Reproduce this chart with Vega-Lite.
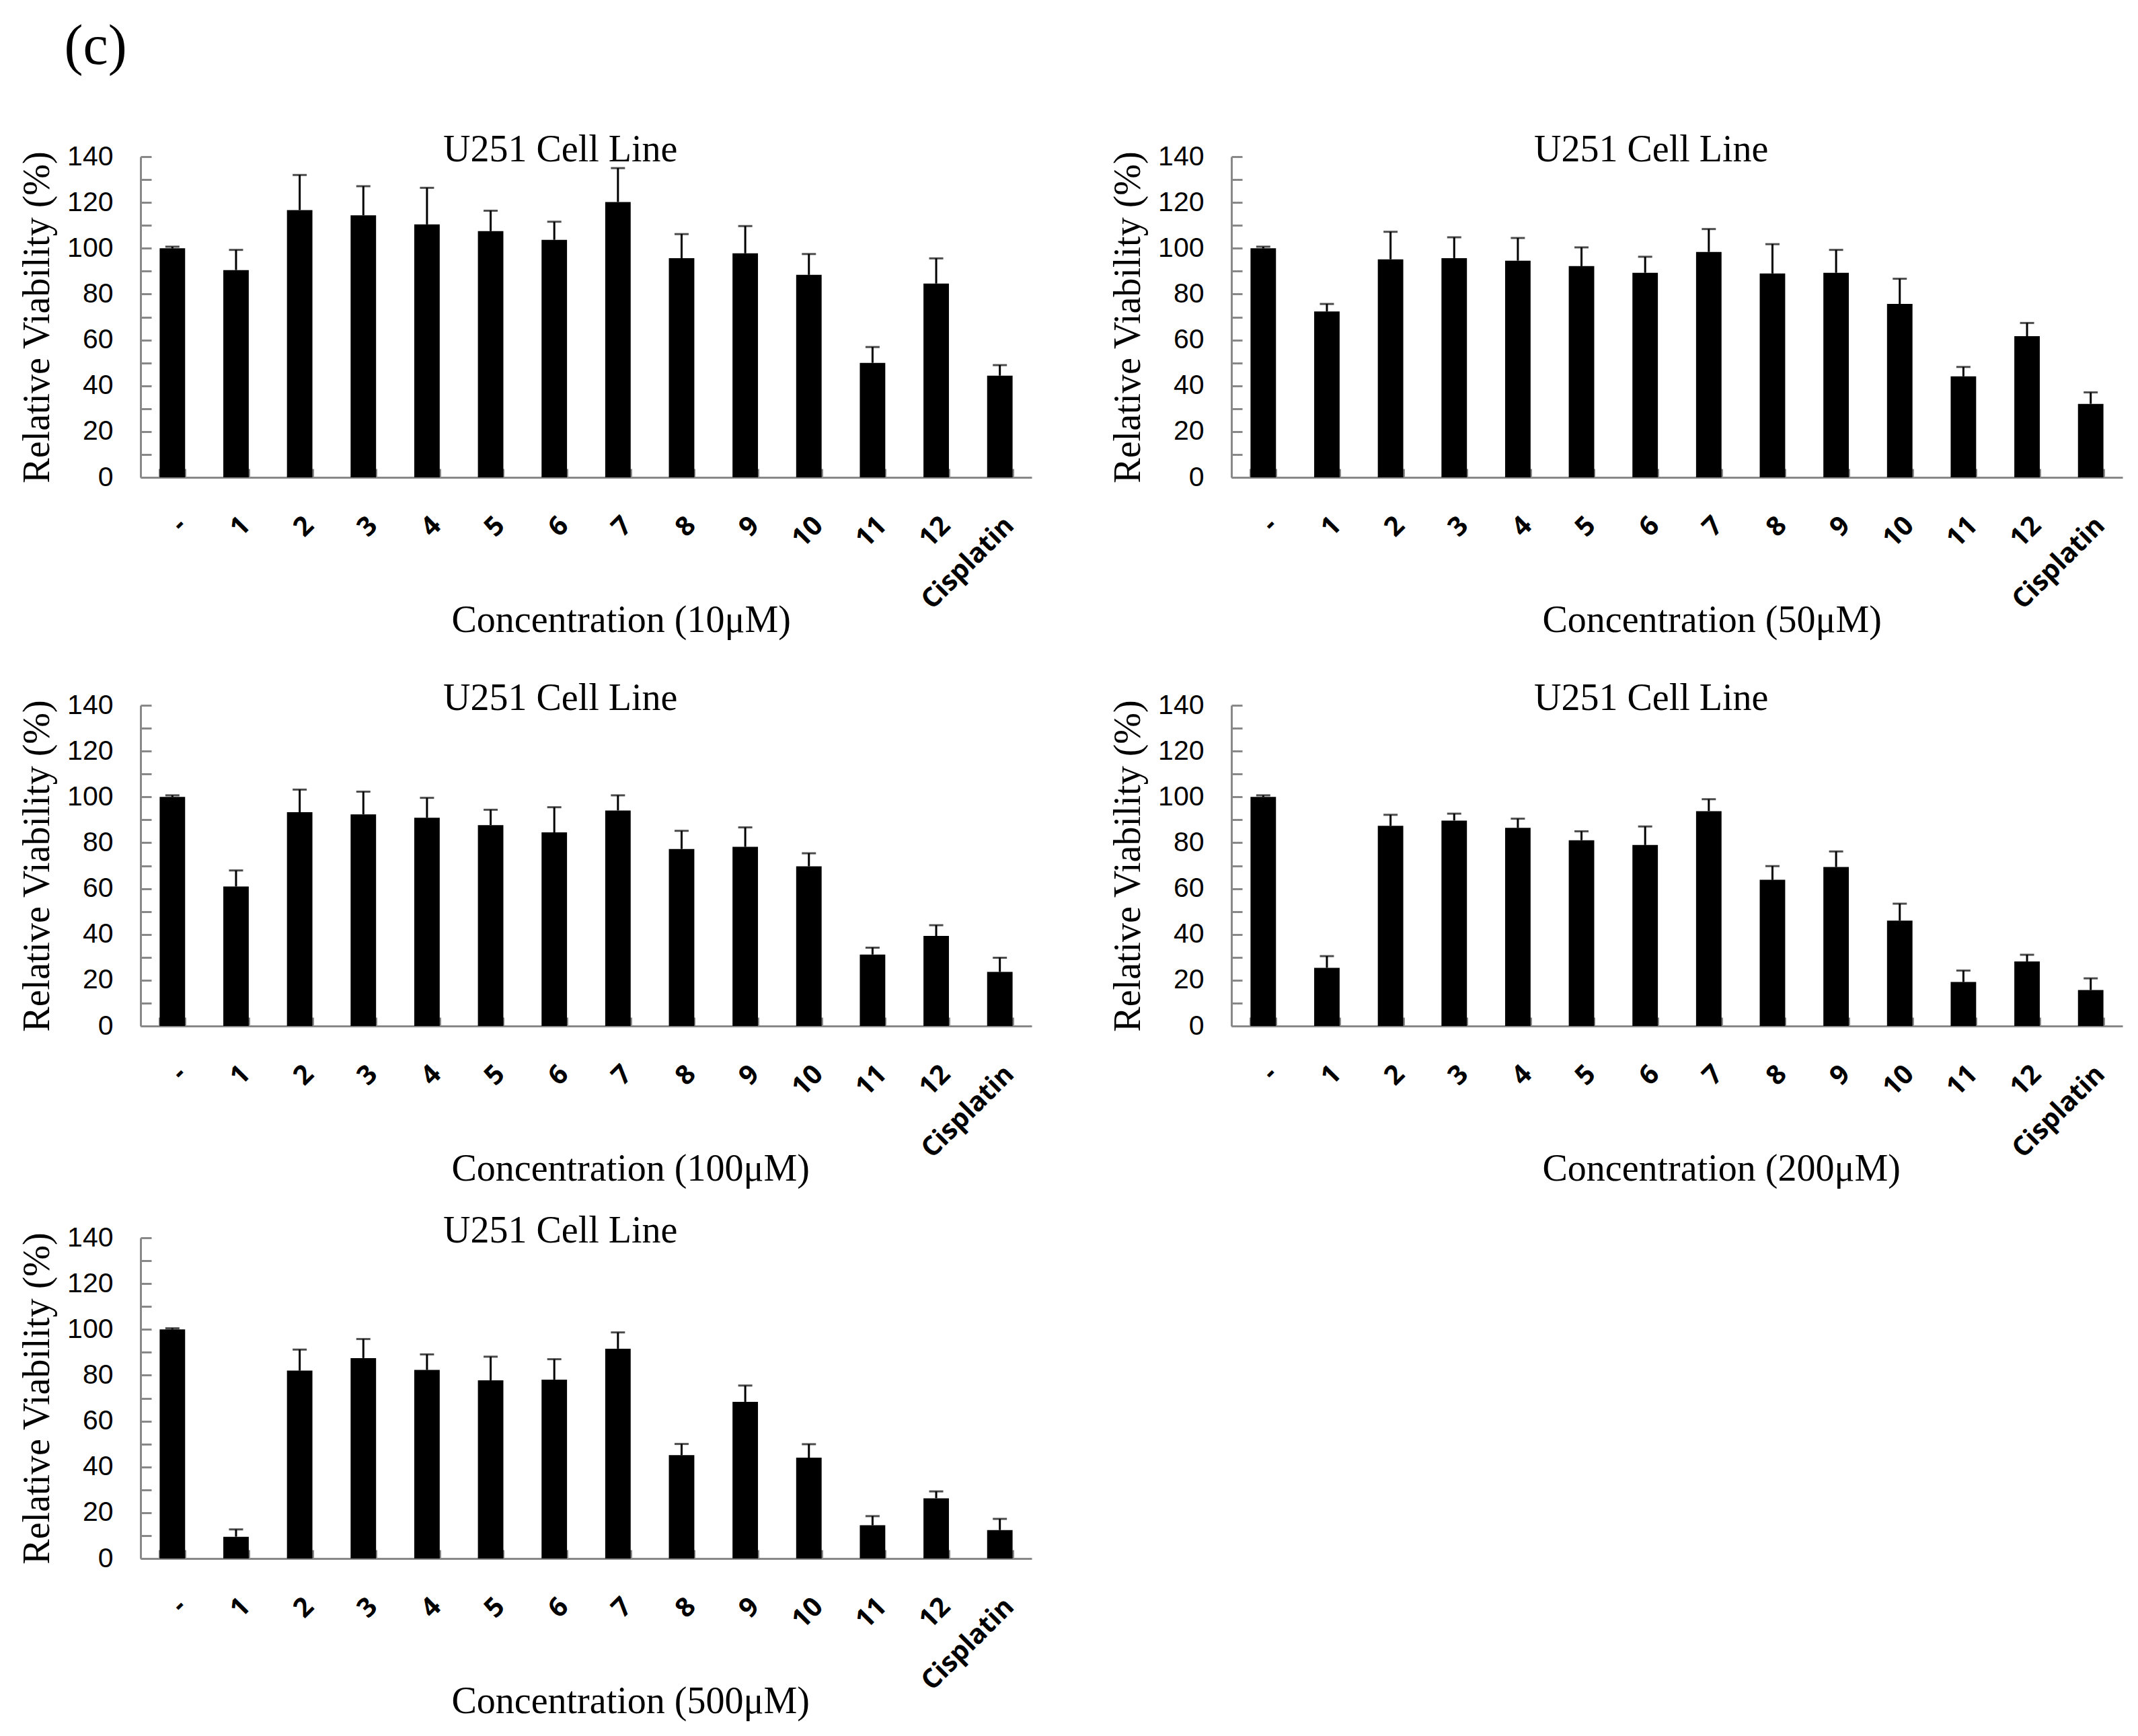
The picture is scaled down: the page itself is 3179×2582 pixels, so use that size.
{
  "$schema": "https://vega.github.io/schema/vega-lite/v6.json",
  "background": "white",
  "padding": {"left": 27, "top": 28, "right": 10, "bottom": 10},
  "title": {"text": "(c)", "fontSize": 84, "anchor": "start", "dx": 68, "offset": 82},
  "datasets": {
    "viability": [
      {"panel": "10", "compound": "-", "value": 100, "upper": 100.7},
      {"panel": "10", "compound": "1", "value": 90.5, "upper": 99.3},
      {"panel": "10", "compound": "2", "value": 116.7, "upper": 132},
      {"panel": "10", "compound": "3", "value": 114.4, "upper": 127.1},
      {"panel": "10", "compound": "4", "value": 110.4, "upper": 126.4},
      {"panel": "10", "compound": "5", "value": 107.5, "upper": 116.4},
      {"panel": "10", "compound": "6", "value": 103.7, "upper": 111.6},
      {"panel": "10", "compound": "7", "value": 120.2, "upper": 135},
      {"panel": "10", "compound": "8", "value": 95.7, "upper": 106.2},
      {"panel": "10", "compound": "9", "value": 97.8, "upper": 109.7},
      {"panel": "10", "compound": "10", "value": 88.4, "upper": 97.5},
      {"panel": "10", "compound": "11", "value": 50, "upper": 56.9},
      {"panel": "10", "compound": "12", "value": 84.6, "upper": 95.6},
      {"panel": "10", "compound": "Cisplatin", "value": 44.4, "upper": 49},
      {"panel": "50", "compound": "-", "value": 100, "upper": 100.7},
      {"panel": "50", "compound": "1", "value": 72.4, "upper": 75.7},
      {"panel": "50", "compound": "2", "value": 95.2, "upper": 107.2},
      {"panel": "50", "compound": "3", "value": 95.7, "upper": 104.8},
      {"panel": "50", "compound": "4", "value": 94.6, "upper": 104.5},
      {"panel": "50", "compound": "5", "value": 92.2, "upper": 100.4},
      {"panel": "50", "compound": "6", "value": 89.3, "upper": 96.3},
      {"panel": "50", "compound": "7", "value": 98.4, "upper": 108.4},
      {"panel": "50", "compound": "8", "value": 89, "upper": 101.8},
      {"panel": "50", "compound": "9", "value": 89.3, "upper": 99.3},
      {"panel": "50", "compound": "10", "value": 75.7, "upper": 86.7},
      {"panel": "50", "compound": "11", "value": 44.1, "upper": 48.2},
      {"panel": "50", "compound": "12", "value": 61.6, "upper": 67.4},
      {"panel": "50", "compound": "Cisplatin", "value": 32.1, "upper": 37.1},
      {"panel": "100", "compound": "-", "value": 100, "upper": 100.7},
      {"panel": "100", "compound": "1", "value": 60.9, "upper": 67.9},
      {"panel": "100", "compound": "2", "value": 93.3, "upper": 103.2},
      {"panel": "100", "compound": "3", "value": 92.4, "upper": 102.3},
      {"panel": "100", "compound": "4", "value": 90.9, "upper": 99.6},
      {"panel": "100", "compound": "5", "value": 87.7, "upper": 94.4},
      {"panel": "100", "compound": "6", "value": 84.5, "upper": 95.5},
      {"panel": "100", "compound": "7", "value": 94.1, "upper": 100.7},
      {"panel": "100", "compound": "8", "value": 77.3, "upper": 85.2},
      {"panel": "100", "compound": "9", "value": 78.2, "upper": 86.7},
      {"panel": "100", "compound": "10", "value": 69.7, "upper": 75.4},
      {"panel": "100", "compound": "11", "value": 31.2, "upper": 34.2},
      {"panel": "100", "compound": "12", "value": 39.3, "upper": 44},
      {"panel": "100", "compound": "Cisplatin", "value": 23.6, "upper": 29.8},
      {"panel": "200", "compound": "-", "value": 100, "upper": 100.7},
      {"panel": "200", "compound": "1", "value": 25.4, "upper": 30.5},
      {"panel": "200", "compound": "2", "value": 87.4, "upper": 92.2},
      {"panel": "200", "compound": "3", "value": 89.7, "upper": 92.7},
      {"panel": "200", "compound": "4", "value": 86.5, "upper": 90.5},
      {"panel": "200", "compound": "5", "value": 81.1, "upper": 85},
      {"panel": "200", "compound": "6", "value": 79, "upper": 87.1},
      {"panel": "200", "compound": "7", "value": 93.8, "upper": 99},
      {"panel": "200", "compound": "8", "value": 63.8, "upper": 69.8},
      {"panel": "200", "compound": "9", "value": 69.4, "upper": 76.2},
      {"panel": "200", "compound": "10", "value": 46, "upper": 53.4},
      {"panel": "200", "compound": "11", "value": 19.2, "upper": 24.2},
      {"panel": "200", "compound": "12", "value": 28.2, "upper": 31.1},
      {"panel": "200", "compound": "Cisplatin", "value": 15.7, "upper": 20.8},
      {"panel": "500", "compound": "-", "value": 100, "upper": 100.5},
      {"panel": "500", "compound": "1", "value": 9.5, "upper": 12.7},
      {"panel": "500", "compound": "2", "value": 82, "upper": 91.2},
      {"panel": "500", "compound": "3", "value": 87.5, "upper": 95.8},
      {"panel": "500", "compound": "4", "value": 82.3, "upper": 89.1},
      {"panel": "500", "compound": "5", "value": 77.8, "upper": 88.1},
      {"panel": "500", "compound": "6", "value": 78.1, "upper": 87},
      {"panel": "500", "compound": "7", "value": 91.6, "upper": 98.7},
      {"panel": "500", "compound": "8", "value": 45.1, "upper": 50},
      {"panel": "500", "compound": "9", "value": 68.4, "upper": 75.5},
      {"panel": "500", "compound": "10", "value": 44, "upper": 49.9},
      {"panel": "500", "compound": "11", "value": 14.5, "upper": 18.5},
      {"panel": "500", "compound": "12", "value": 26.3, "upper": 29.3},
      {"panel": "500", "compound": "Cisplatin", "value": 12.4, "upper": 17.3}
    ]
  },
  "spacing": 37,
  "vconcat": [
    {
      "columns": 2,
      "spacing": {"row": 61, "column": 115},
      "concat": [
        {
          "title": {"text": "U251 Cell Line", "anchor": "start", "frame": "group", "dx": 450, "offset": -40},
          "width": 1325,
          "height": 477,
          "data": {"name": "viability"},
          "transform": [{"filter": "datum.panel == '10'"}],
          "encoding": {
            "x": {"field": "compound", "type": "nominal", "sort": ["-", "1", "2", "3", "4", "5", "6", "7", "8", "9", "10", "11", "12", "Cisplatin"], "scale": {"paddingInner": 0.6, "paddingOuter": 0.3}, "title": "Concentration (10μM)"}
          },
          "layer": [
            {"mark": {"type": "bar", "color": "black"}, "encoding": {"y": {"field": "value", "type": "quantitative", "scale": {"domain": [0, 140], "nice": false}, "title": "Relative Viability (%)"}}},
            {"mark": {"type": "rule", "color": "black", "strokeWidth": 3}, "encoding": {"y": {"field": "value", "type": "quantitative", "title": "Relative Viability (%)"}, "y2": {"field": "upper"}}},
            {"mark": {"type": "tick", "color": "black", "thickness": 3, "size": 21, "orient": "horizontal"}, "encoding": {"y": {"field": "upper", "type": "quantitative", "title": "Relative Viability (%)"}}}
          ]
        },
        {
          "title": {"text": "U251 Cell Line", "anchor": "start", "frame": "group", "dx": 450, "offset": -40},
          "width": 1325,
          "height": 477,
          "data": {"name": "viability"},
          "transform": [{"filter": "datum.panel == '50'"}],
          "encoding": {
            "x": {"field": "compound", "type": "nominal", "sort": ["-", "1", "2", "3", "4", "5", "6", "7", "8", "9", "10", "11", "12", "Cisplatin"], "scale": {"paddingInner": 0.6, "paddingOuter": 0.3}, "title": "Concentration (50μM)"}
          },
          "layer": [
            {"mark": {"type": "bar", "color": "black"}, "encoding": {"y": {"field": "value", "type": "quantitative", "scale": {"domain": [0, 140], "nice": false}, "title": "Relative Viability (%)"}}},
            {"mark": {"type": "rule", "color": "black", "strokeWidth": 3}, "encoding": {"y": {"field": "value", "type": "quantitative", "title": "Relative Viability (%)"}, "y2": {"field": "upper"}}},
            {"mark": {"type": "tick", "color": "black", "thickness": 3, "size": 21, "orient": "horizontal"}, "encoding": {"y": {"field": "upper", "type": "quantitative", "title": "Relative Viability (%)"}}}
          ]
        },
        {
          "title": {"text": "U251 Cell Line", "anchor": "start", "frame": "group", "dx": 450, "offset": -40},
          "width": 1325,
          "height": 477,
          "data": {"name": "viability"},
          "transform": [{"filter": "datum.panel == '100'"}],
          "encoding": {
            "x": {"field": "compound", "type": "nominal", "sort": ["-", "1", "2", "3", "4", "5", "6", "7", "8", "9", "10", "11", "12", "Cisplatin"], "scale": {"paddingInner": 0.6, "paddingOuter": 0.3}, "title": "Concentration (100μM)"}
          },
          "layer": [
            {"mark": {"type": "bar", "color": "black"}, "encoding": {"y": {"field": "value", "type": "quantitative", "scale": {"domain": [0, 140], "nice": false}, "title": "Relative Viability (%)"}}},
            {"mark": {"type": "rule", "color": "black", "strokeWidth": 3}, "encoding": {"y": {"field": "value", "type": "quantitative", "title": "Relative Viability (%)"}, "y2": {"field": "upper"}}},
            {"mark": {"type": "tick", "color": "black", "thickness": 3, "size": 21, "orient": "horizontal"}, "encoding": {"y": {"field": "upper", "type": "quantitative", "title": "Relative Viability (%)"}}}
          ]
        },
        {
          "title": {"text": "U251 Cell Line", "anchor": "start", "frame": "group", "dx": 450, "offset": -40},
          "width": 1325,
          "height": 477,
          "data": {"name": "viability"},
          "transform": [{"filter": "datum.panel == '200'"}],
          "encoding": {
            "x": {"field": "compound", "type": "nominal", "sort": ["-", "1", "2", "3", "4", "5", "6", "7", "8", "9", "10", "11", "12", "Cisplatin"], "scale": {"paddingInner": 0.6, "paddingOuter": 0.3}, "title": "Concentration (200μM)"}
          },
          "layer": [
            {"mark": {"type": "bar", "color": "black"}, "encoding": {"y": {"field": "value", "type": "quantitative", "scale": {"domain": [0, 140], "nice": false}, "title": "Relative Viability (%)"}}},
            {"mark": {"type": "rule", "color": "black", "strokeWidth": 3}, "encoding": {"y": {"field": "value", "type": "quantitative", "title": "Relative Viability (%)"}, "y2": {"field": "upper"}}},
            {"mark": {"type": "tick", "color": "black", "thickness": 3, "size": 21, "orient": "horizontal"}, "encoding": {"y": {"field": "upper", "type": "quantitative", "title": "Relative Viability (%)"}}}
          ]
        }
      ]
    },
    {
      "title": {"text": "U251 Cell Line", "anchor": "start", "frame": "group", "dx": 450, "offset": -40},
      "width": 1325,
      "height": 477,
      "data": {"name": "viability"},
      "transform": [{"filter": "datum.panel == '500'"}],
      "encoding": {
        "x": {"field": "compound", "type": "nominal", "sort": ["-", "1", "2", "3", "4", "5", "6", "7", "8", "9", "10", "11", "12", "Cisplatin"], "scale": {"paddingInner": 0.6, "paddingOuter": 0.3}, "title": "Concentration (500μM)"}
      },
      "layer": [
        {"mark": {"type": "bar", "color": "black"}, "encoding": {"y": {"field": "value", "type": "quantitative", "scale": {"domain": [0, 140], "nice": false}, "title": "Relative Viability (%)"}}},
        {"mark": {"type": "rule", "color": "black", "strokeWidth": 3}, "encoding": {"y": {"field": "value", "type": "quantitative", "title": "Relative Viability (%)"}, "y2": {"field": "upper"}}},
        {"mark": {"type": "tick", "color": "black", "thickness": 3, "size": 21, "orient": "horizontal"}, "encoding": {"y": {"field": "upper", "type": "quantitative", "title": "Relative Viability (%)"}}}
      ]
    }
  ],
  "config": {
    "view": {"stroke": null},
    "title": {"font": "Liberation Serif", "fontSize": 56, "fontWeight": "normal", "color": "black"},
    "axis": {"domainColor": "#888888", "domainWidth": 3, "tickColor": "#888888", "tickWidth": 3, "grid": false, "labelColor": "black", "titleColor": "black"},
    "axisX": {"labelFont": "Open Sans", "labelFontWeight": "bold", "labelFontSize": 40, "labelAngle": -45, "tickBand": "extent", "tickSize": -13, "labelPadding": 64, "titleFont": "Liberation Serif", "titleFontSize": 56, "titleFontWeight": "normal", "titleX": 462, "titleAlign": "left", "titleY": 185, "titleBaseline": "top"},
    "axisY": {"labelFont": "Liberation Sans", "labelFontSize": 41, "tickSize": -16, "labelPadding": 57, "values": [0, 20, 40, 60, 80, 100, 120, 140], "titleFont": "Liberation Serif", "titleFontSize": 56, "titleFontWeight": "normal", "titlePadding": 15}
  }
}
